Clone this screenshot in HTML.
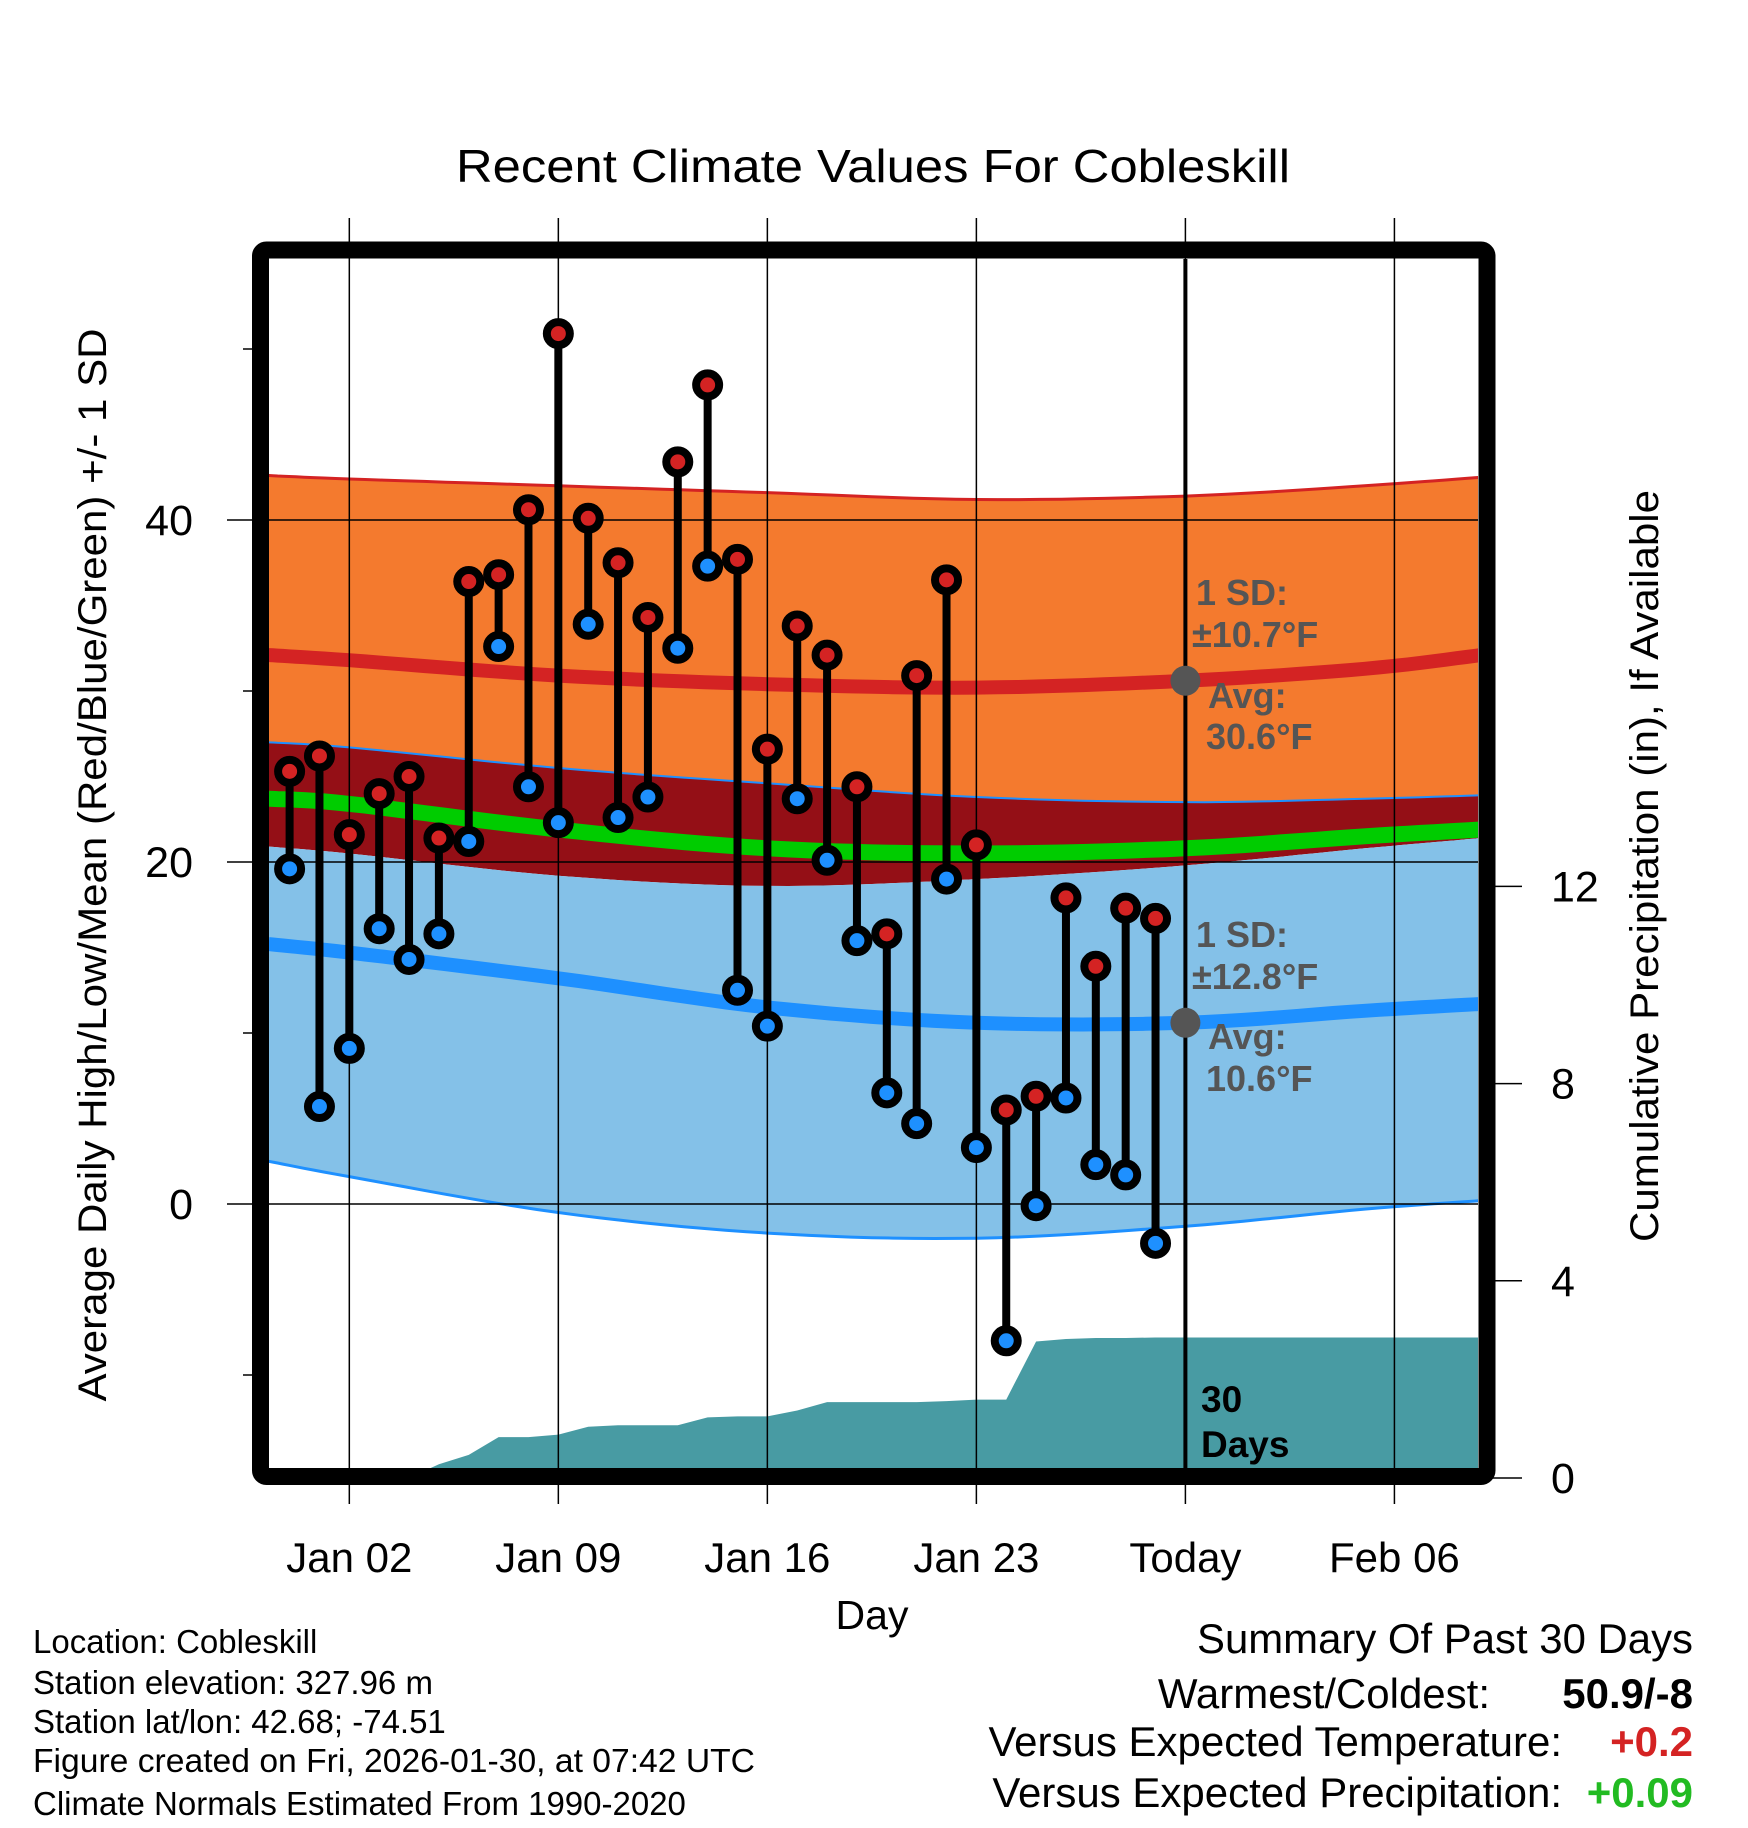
<!DOCTYPE html>
<html><head><meta charset="utf-8"><style>
html,body{margin:0;padding:0;background:#fff;}
svg{display:block;font-family:"Liberation Sans",Arial,sans-serif;}
</style></head><body>
<svg id="chart" width="1748" height="1828" viewBox="0 0 1748 1828" xmlns="http://www.w3.org/2000/svg">
<defs><clipPath id="plotclip"><rect x="269" y="259" width="1209" height="1210"/></clipPath></defs>
<g id="bands" clip-path="url(#plotclip)"></g>
<g id="grid"></g>
<g id="marks" clip-path="url(#plotclip)"></g>
<g id="annot"></g>
<rect x="260.5" y="250" width="1226.5" height="1226.5" rx="6" fill="none" stroke="#000" stroke-width="17"/>
<text x="873" y="182" font-size="46" text-anchor="middle" textLength="834" lengthAdjust="spacingAndGlyphs">Recent Climate Values For Cobleskill</text>
<text transform="translate(106,865) rotate(-90)" font-size="40" text-anchor="middle" textLength="1073" lengthAdjust="spacingAndGlyphs">Average Daily High/Low/Mean (Red/Blue/Green) +/- 1 SD</text>
<text transform="translate(1658,866) rotate(-90)" font-size="40" text-anchor="middle" textLength="752" lengthAdjust="spacingAndGlyphs">Cumulative Precipitation (in), If Available</text>
<text x="872" y="1629" font-size="41" text-anchor="middle">Day</text>
<g font-size="33">
<text x="33" y="1653">Location: Cobleskill</text>
<text x="33" y="1694">Station elevation: 327.96 m</text>
<text x="33" y="1733">Station lat/lon: 42.68; -74.51</text>
<text x="33" y="1772" textLength="722" lengthAdjust="spacingAndGlyphs">Figure created on Fri, 2026-01-30, at 07:42 UTC</text>
<text x="33" y="1815">Climate Normals Estimated From 1990-2020</text>
</g>
<g font-size="42" text-anchor="end">
<text x="1693" y="1653" textLength="496" lengthAdjust="spacingAndGlyphs">Summary Of Past 30 Days</text>
<text x="1490" y="1708">Warmest/Coldest:</text>
<text x="1693" y="1708" font-weight="bold">50.9/-8</text>
<text x="1562" y="1756">Versus Expected Temperature:</text>
<text x="1693" y="1756" font-weight="bold" fill="#d42323">+0.2</text>
<text x="1562" y="1807">Versus Expected Precipitation:</text>
<text x="1693" y="1807" font-weight="bold" fill="#22bb22">+0.09</text>
</g>
</svg>
<script>
// ---- data ----
const dayLabels = ["Dec 31","Jan 01","Jan 02","Jan 03","Jan 04","Jan 05","Jan 06","Jan 07","Jan 08","Jan 09","Jan 10","Jan 11","Jan 12","Jan 13","Jan 14","Jan 15","Jan 16","Jan 17","Jan 18","Jan 19","Jan 20","Jan 21","Jan 22","Jan 23","Jan 24","Jan 25","Jan 26","Jan 27","Jan 28","Jan 29"];
const highs = [25.3,26.2,21.6,24.0,25.0,21.4,36.4,36.8,40.6,50.9,40.1,37.5,34.3,43.4,47.9,37.7,26.6,33.8,32.1,24.4,15.8,30.9,36.5,21.0,5.5,6.3,17.9,13.9,17.3,16.7];
const lows = [19.6,5.7,9.1,16.1,14.3,15.8,21.2,32.6,24.4,22.3,33.9,22.6,23.8,32.5,37.3,12.5,10.4,23.7,20.1,15.4,6.5,4.7,19.0,3.3,-8.0,-0.1,6.2,2.3,1.7,-2.3];
const precip = [0,0,0,0,0,0.28,0.47,0.83,0.83,0.88,1.04,1.07,1.07,1.07,1.23,1.25,1.25,1.37,1.54,1.54,1.54,1.54,1.56,1.59,1.59,2.77,2.82,2.84,2.84,2.85,2.85];
const normDays = [-0.7,2,9,16,23,30,36,39.9];
const highPlusSD = [42.6,42.4,42.0,41.6,41.2,41.4,42.0,42.5];
const avgHigh = [32.1,31.8,30.9,30.4,30.2,30.6,31.3,32.1];
const highMinusSD = [27.0,26.7,25.5,24.6,23.8,23.5,23.7,23.9];
const avgMean = [23.7,23.4,21.9,20.8,20.5,20.8,21.5,21.9];
const lowPlusSD = [20.9,20.5,19.2,18.6,19.0,19.8,20.8,21.4];
const avgLow = [15.2,14.7,13.2,11.5,10.6,10.6,11.3,11.7];
const lowMinusSD = [2.5,1.6,-0.5,-1.7,-2.0,-1.3,-0.3,0.2];
const yTicks = [0,20,40];
const yMinorTicks = [-10,10,30,50];
const pTicks = [0,4,8,12];
const xTickDays = [2,9,16,23,30,37];
const xTickLabels = ["Jan 02","Jan 09","Jan 16","Jan 23","Today","Feb 06"];
const todayIdx = 30;
const rightEdgeDay = 39.9;

// ---- axes ----
const X = d => 289.6 + d*29.86;
const Y = v => 1204 - v*17.1;
const P = v => 1478 - v*49.3;
const NS = "http://www.w3.org/2000/svg";
function mk(parent, tag, attrs){const e=document.createElementNS(NS,tag);for(const k in attrs)e.setAttribute(k,attrs[k]);parent.appendChild(e);return e;}
const bands=document.getElementById('bands'), grid=document.getElementById('grid'), marks=document.getElementById('marks'), annot=document.getElementById('annot');
// smooth curve (catmull-rom) through data anchors
function smoothPts(arr){
  const p = normDays.map((d,i)=>[X(d),Y(arr[i])]);
  const out=[];
  for(let i=0;i<p.length-1;i++){
    const p0=p[Math.max(0,i-1)],p1=p[i],p2=p[i+1],p3=p[Math.min(p.length-1,i+2)];
    for(let s=0;s<10;s++){
      const t=s/10,t2=t*t,t3=t2*t;
      const f=(a,b,c,d)=>0.5*((2*b)+(-a+c)*t+(2*a-5*b+4*c-d)*t2+(-a+3*b-3*c+d)*t3);
      out.push(f(p0[0],p1[0],p2[0],p3[0]).toFixed(1)+','+f(p0[1],p1[1],p2[1],p3[1]).toFixed(1));
    }
  }
  out.push(p[p.length-1][0]+','+p[p.length-1][1]);
  return out;
}
function band(top,bot,fill,name){
  const p=[...smoothPts(top), ...smoothPts(bot).reverse()].join(' ');
  const e=mk(bands,'polygon',{points:p,fill:fill});
  
  
}
function line(arr,color,w,name){
  const e=mk(bands,'polyline',{points:smoothPts(arr).join(' '),fill:'none',stroke:color,'stroke-width':w,'stroke-linejoin':'round'});
  
  
}
band(highPlusSD,highMinusSD,'#f47a2e','high-sd-band');
band(highMinusSD,lowPlusSD,'#940f16','overlap-band');
band(lowPlusSD,lowMinusSD,'#84c1e8','low-sd-band');
line(highPlusSD,'#d42323',3,'high-plus-sd-line');
line(highMinusSD,'#1e90ff',2,'high-minus-sd-line');
line(lowMinusSD,'#1e90ff',3,'low-minus-sd-line');
line(avgMean,'#00cc00',16,'avg-mean-line');
line(avgHigh,'#d42323',14,'avg-high-line');
line(avgLow,'#1e90ff',14,'avg-low-line');

// precipitation
{
  let p=[];
  precip.forEach((v,i)=>p.push(X(i)+','+P(v)));
  p.push(X(rightEdgeDay)+','+P(precip[precip.length-1]));
  p.push(X(rightEdgeDay)+','+P(-1));
  p.push(X(0)+','+P(-1));
  const e=mk(bands,'polygon',{points:p.join(' '),fill:'#489ba3'});
  
  
}

// grid lines & ticks
yTicks.forEach(v=>{
  const e=mk(grid,'line',{x1:227,x2:1478,y1:Y(v),y2:Y(v),stroke:'#000','stroke-width':1.5});
  
  
  const t=mk(grid,'text',{x:193,y:Y(v)+15,'font-size':43,'text-anchor':'end'});t.textContent=v;
  
  
});
yMinorTicks.forEach(v=>{
  const e=mk(grid,'line',{x1:243,x2:260,y1:Y(v),y2:Y(v),stroke:'#000','stroke-width':1.5});
  
  
});
pTicks.forEach(v=>{
  const e=mk(grid,'line',{x1:1487,x2:1522,y1:P(v),y2:P(v),stroke:'#000','stroke-width':1.5});
  
  
  const t=mk(grid,'text',{x:1551,y:P(v)+15,'font-size':43});t.textContent=v;
  
  
});
xTickDays.forEach((d,i)=>{
  const e=mk(grid,'line',{x1:X(d),x2:X(d),y1:218,y2:1504,stroke:'#000','stroke-width':1.5});
  
  
  const t=mk(grid,'text',{x:X(d),y:1572,'font-size':42,'text-anchor':'middle'});t.textContent=xTickLabels[i];
  
  
});

// today line
{
  const e=mk(marks,'line',{x1:X(todayIdx),x2:X(todayIdx),y1:255,y2:1475,stroke:'#000','stroke-width':4});
  
  
}

// stems & markers
highs.forEach((h,i)=>{
  const l=lows[i], x=X(i);
  const g=mk(marks,'g',{});
  
  
  mk(g,'line',{x1:x,x2:x,y1:Y(h),y2:Y(l),stroke:'#000','stroke-width':8});
  const c1=mk(g,'circle',{cx:x,cy:Y(h),r:11.5,fill:'#d42323',stroke:'#000','stroke-width':8});
  
  
  const c2=mk(g,'circle',{cx:x,cy:Y(l),r:11.5,fill:'#1e90ff',stroke:'#000','stroke-width':8});
  
  
});

// annotations
function txt(x,y,s,fill,name,size){const t=mk(annot,'text',{x:x,y:y,'font-size':size||36,'font-weight':'bold',fill:fill});t.textContent=s;
  
  return t;}
const hiAvgToday = avgHigh[5], loAvgToday = avgLow[5];
[[hiAvgToday,'avg-high-dot'],[loAvgToday,'avg-low-dot']].forEach(a=>{
  const c=mk(annot,'circle',{cx:X(todayIdx),cy:Y(a[0]),r:15,fill:'#555'});
  
  
});
txt(1196,605,'1 SD:','#555','high-sd-label');
txt(1192,647,'\u00b110.7\u00b0F','#555','high-sd-value');
txt(1208,708,'Avg:','#555','high-avg-label');
txt(1206,749,'30.6\u00b0F','#555','high-avg-value');
txt(1196,947,'1 SD:','#555','low-sd-label');
txt(1192,989,'\u00b112.8\u00b0F','#555','low-sd-value');
txt(1208,1049,'Avg:','#555','low-avg-label');
txt(1206,1091,'10.6\u00b0F','#555','low-avg-value');
txt(1201,1412,'30','#000','days-count',37);
txt(1201,1457,'Days','#000','days-label',37);
</script>
</body></html>
